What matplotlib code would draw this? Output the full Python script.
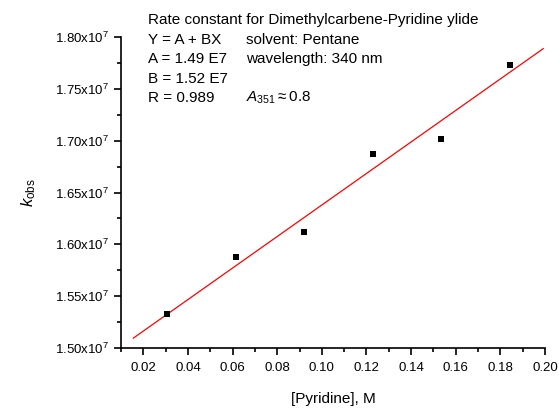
import numpy as np
import matplotlib
matplotlib.use('Agg')
from matplotlib import pyplot as plt
from matplotlib.ticker import MultipleLocator, FuncFormatter

plt.rcParams['font.family'] = ['Liberation Sans', 'DejaVu Sans']
plt.rcParams['mathtext.fontset'] = 'custom'
plt.rcParams['mathtext.rm'] = 'Liberation Sans'
plt.rcParams['mathtext.it'] = 'Liberation Sans:italic'

# pyridine concentration (M) and observed rate constants (s^-1)
pyridine = [0.0307, 0.0614, 0.0921, 0.1228, 0.1535, 0.1842]
kobs = [1.533e7, 1.588e7, 1.612e7, 1.687e7, 1.702e7, 1.773e7]

# linear fit Y = A + BX
A = 1.486e7
B = 1.52e7
R = 0.989
fit_x = [0.0155, 0.1992]

fig = plt.figure(figsize=(5.59, 4.09), dpi=100)
ax = fig.add_axes([0.2165, 0.149, 0.7585, 0.7605])

fx = np.array(fit_x)
ax.plot(fx, A + B * fx, color='red', lw=0.9)
ax.plot(pyridine, kobs, 's', color='black', ms=5, markeredgewidth=0)

ax.set_xlim(0.01, 0.20)
ax.set_ylim(1.50e7, 1.80e7)
ax.xaxis.set_major_locator(MultipleLocator(0.02))
ax.xaxis.set_minor_locator(MultipleLocator(0.01))
ax.yaxis.set_major_locator(MultipleLocator(0.05e7))
ax.yaxis.set_minor_locator(MultipleLocator(0.025e7))
ax.xaxis.set_major_formatter(FuncFormatter(lambda v, p: '%.2f' % v))
ax.yaxis.set_major_formatter(FuncFormatter(lambda v, p: r'%.2fx10$^{7}$' % (v / 1e7)))

for s in ['top', 'right']:
    ax.spines[s].set_visible(False)
for s in ['left', 'bottom']:
    ax.spines[s].set_linewidth(1.2)
ax.tick_params(which='major', direction='out', length=5, width=1.2, labelsize=9.5)
ax.tick_params(which='minor', direction='out', length=3, width=1.2)
ax.tick_params(axis='x', pad=5)
ax.tick_params(axis='y', pad=4)

ax.set_xlabel('[Pyridine], M', fontsize=11)
ax.xaxis.set_label_coords(0.5, -0.14)
ax.set_ylabel(r'$\mathit{k}_{\rm obs}$', fontsize=12, labelpad=12)

# fit summary
fs = 11
tx0 = 148 / 559
tx1 = 246 / 559
rows = [20, 40, 59, 79, 98]
fig.text(tx0, 1 - rows[0] / 409, 'Rate constant for Dimethylcarbene-Pyridine ylide', fontsize=fs, va='center')
fig.text(tx0, 1 - rows[1] / 409, 'Y = A + BX', fontsize=fs, va='center')
fig.text(tx0, 1 - rows[2] / 409, 'A = %.2f E7' % (A / 1e7), fontsize=fs, va='center')
fig.text(tx0, 1 - rows[3] / 409, 'B = %.2f E7' % (B / 1e7), fontsize=fs, va='center')
fig.text(tx0, 1 - rows[4] / 409, 'R = %.3f' % R, fontsize=fs, va='center')
fig.text(tx1, 1 - rows[1] / 409, 'solvent: Pentane', fontsize=fs, va='center')
fig.text(tx1, 1 - rows[2] / 409, 'wavelength: 340 nm', fontsize=fs, va='center')
fig.text(tx1, 1 - rows[4] / 409, r'$\mathit{A}_{351}$$\approx$0.8', fontsize=fs, va='center')

fig.savefig('out.png', dpi=100)
